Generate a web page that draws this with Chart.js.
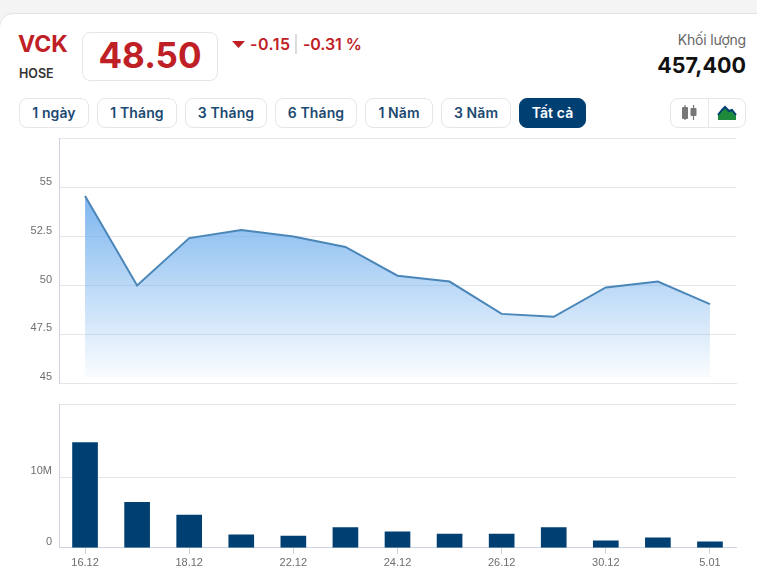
<!doctype html>
<html lang="vi">
<head>
<meta charset="utf-8">
<title>VCK</title>
<script src="https://cdn.jsdelivr.net/npm/chart.js@4/dist/chart.umd.min.js"></script>
<style>
  html, body { margin: 0; padding: 0; }
  body { width: 757px; height: 568px; background: #f4f4f4; overflow: hidden; position: relative; font-family: Inter, sans-serif; }
  .card { position: absolute; left: 0; top: 13px; width: 780px; height: 600px; background: #fff; border: 1px solid #e4e4e4; border-radius: 14px; box-sizing: border-box; margin-left: -1px; }
  .abs { position: absolute; white-space: nowrap; }
  .red { color: #bf2026; }
  .box { border: 1px solid #e6e6e6; border-radius: 8px; box-sizing: border-box; background: #fff; }
  .btn { position: absolute; top: 98px; height: 30px; line-height: 28px; text-align: center; font-size: 14px; font-weight: 600; color: #1c4a72; letter-spacing: 0.1px; }
  .btn.on { background: #003f72; border-color: #003f72; color: #fff; }
  canvas { position: absolute; left: 0; }
</style>
</head>
<body>
<div class="card"></div>

<div class="abs red" style="left:18px;top:30px;font-size:23px;font-weight:700">VCK</div>
<div class="abs" style="left:19px;top:66px;font-size:12.5px;font-weight:600;color:#333">HOSE</div>
<div class="abs box red" style="left:82px;top:32px;width:136px;height:49px;line-height:45px;text-align:center;font-size:35px;font-weight:700">48.50</div>
<svg class="abs" style="left:232px;top:41px" width="13" height="7"><path d="M0 0H13L6.5 7Z" fill="#bf2026"/></svg>
<div class="abs red" style="left:250px;top:34px;font-size:16px;font-weight:600;letter-spacing:0.5px">-0.15</div>
<div class="abs" style="left:295px;top:34px;width:2px;height:20px;background:#ddd"></div>
<div class="abs red" style="left:303px;top:34px;font-size:16px;font-weight:600;letter-spacing:-0.1px">-0.31 %</div>
<div class="abs" style="right:11px;top:31px;font-size:14px;color:#666;letter-spacing:-0.2px">Khối lượng</div>
<div class="abs" style="right:11px;top:52px;font-size:21.5px;font-weight:700;color:#111">457,400</div>

<div class="btn box" style="left:19px;width:70px">1 ngày</div>
<div class="btn box" style="left:97px;width:80px">1 Tháng</div>
<div class="btn box" style="left:185px;width:82px">3 Tháng</div>
<div class="btn box" style="left:275px;width:82px">6 Tháng</div>
<div class="btn box" style="left:365px;width:68px">1 Năm</div>
<div class="btn box" style="left:441px;width:70px">3 Năm</div>
<div class="btn box on" style="left:519px;width:67px">Tất cả</div>

<div class="abs box" style="left:670px;top:98px;width:76px;height:30px"></div>
<div class="abs" style="left:708px;top:99px;width:1px;height:28px;background:#e6e6e6"></div>
<svg class="abs" style="left:680px;top:104px" width="18" height="18">
  <path d="M5 1V16M13.5 1V16" stroke="#777" stroke-width="1.2"/>
  <rect x="2" y="3" width="6" height="12" rx="1" fill="#777"/>
  <rect x="10.5" y="4" width="6" height="8" rx="1" fill="#777"/>
</svg>
<svg class="abs" style="left:717px;top:105px" width="20" height="16">
  <path d="M1 10L5 5L8 2L12 6L15 5L19 10V15H1Z" fill="#1d8a3c"/>
  <path d="M1 10L5 5L8 2L12 6L15 5L19 10" fill="none" stroke="#003f72" stroke-width="2"/>
</svg>

<canvas id="priceChart" style="top:125px" width="757" height="272"></canvas>
<canvas id="volumeChart" style="top:391px" width="757" height="182"></canvas>

<script>
const categories = ['16.12', '17.12', '18.12', '19.12', '22.12', '23.12', '24.12', '25.12', '26.12', '27.12', '30.12', '31.12', '5.01'];
const closePrices = [54.57, 50.0, 52.42, 52.83, 52.5, 51.97, 50.5, 50.2, 48.55, 48.4, 49.9, 50.2, 49.05];
const volumes = [14.9, 6.45, 4.65, 1.85, 1.65, 2.85, 2.25, 1.95, 1.95, 2.85, 1.0, 1.4, 0.85];
const priceTicks = [45, 47.5, 50, 52.5, 55];
const volumeTicks = [0, 10];

const gridColor = '#e4e6ea';
const axisColor = '#ccd3de';
const labelColor = '#6e6e6e';
const labelFont = { family: '"Liberation Sans", Arial, sans-serif', size: 11 };

Chart.defaults.animation = false;
Chart.defaults.responsive = false;
Chart.defaults.plugins.legend.display = false;
Chart.defaults.plugins.tooltip.enabled = false;

function yAxis(min, max, tickValues, format) {
    return {
        min: min,
        max: max,
        afterFit: scale => { scale.width = 59; },
        // the extra tick at max only draws the top line of the pane, it has no label
        afterBuildTicks: scale => { scale.ticks = tickValues.concat(max).map(v => ({ value: v })); },
        border: { color: axisColor },
        grid: { color: gridColor, drawTicks: false },
        ticks: {
            color: labelColor,
            font: labelFont,
            padding: 7,
            labelOffset: -6,
            callback: v => (v === max ? '' : format(v))
        }
    };
}

new Chart(document.getElementById('priceChart'), {
    type: 'line',
    data: {
        labels: categories,
        datasets: [{
            data: closePrices,
            borderColor: '#4a86b8',
            borderWidth: 2,
            pointRadius: 0,
            tension: 0,
            fill: { value: 45.3 },
            backgroundColor: ctx => {
                const area = ctx.chart.chartArea;
                if (!area) return 'transparent';
                const y = ctx.chart.scales.y;
                const g = ctx.chart.ctx.createLinearGradient(0, y.getPixelForValue(54.57), 0, y.getPixelForValue(45.3));
                g.addColorStop(0, 'rgba(118,178,238,0.95)');
                g.addColorStop(1, 'rgba(118,178,238,0.03)');
                return g;
            }
        }]
    },
    options: {
        layout: { padding: { top: 3, right: 21, bottom: 0 } },
        scales: {
            x: {
                offset: true,
                border: { color: gridColor },
                grid: { display: false },
                ticks: { display: false }
            },
            y: yAxis(45, 57.5, priceTicks, v => String(v))
        }
    }
});

new Chart(document.getElementById('volumeChart'), {
    type: 'bar',
    data: {
        labels: categories,
        datasets: [{
            data: volumes,
            backgroundColor: '#003f72',
            barThickness: 25
        }]
    },
    options: {
        layout: { padding: { top: 2, right: 21 } },
        scales: {
            x: {
                border: { color: axisColor },
                grid: { offset: false, drawOnChartArea: false, color: axisColor, tickLength: 6 },
                ticks: {
                    color: labelColor,
                    font: labelFont,
                    padding: 3,
                    maxRotation: 0,
                    autoSkip: true,
                    maxTicksLimit: 7
                }
            },
            y: yAxis(0, 20.3, volumeTicks, v => (v === 0 ? '0' : v + 'M'))
        }
    }
});
</script>
</body>
</html>
